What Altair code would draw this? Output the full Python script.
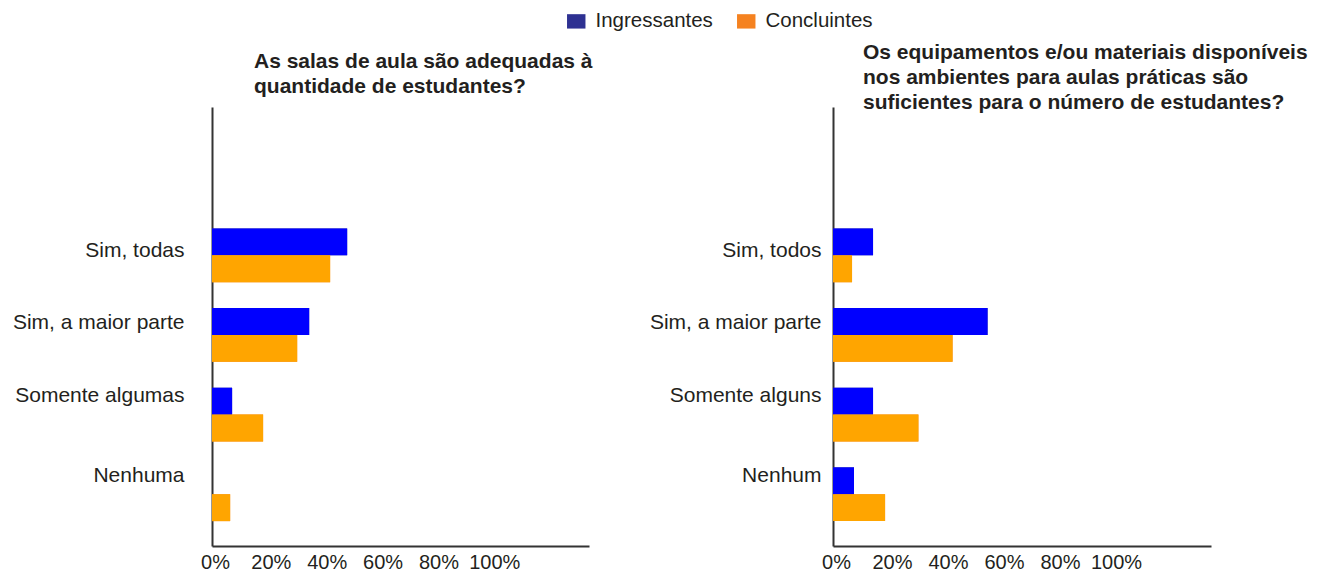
import altair as alt
import pandas as pd

FONT = "Liberation Sans"
TEXT = "#231f20"

series = ["Ingressantes", "Concluintes"]
bar_colors = ["#0000ff", "#ffa500"]
legend_colors = ["#2e3192", "#f58220"]

cats_left = ["Sim, todas", "Sim, a maior parte", "Somente algumas", "Nenhuma"]
ingr_left = [48.4, 34.8, 7.2, 0.0]
concl_left = [42.3, 30.5, 18.3, 6.5]

cats_right = ["Sim, todos", "Sim, a maior parte", "Somente alguns", "Nenhum"]
ingr_right = [14.3, 55.2, 14.3, 7.5]
concl_right = [6.8, 42.7, 30.5, 18.6]

title_left = ["As salas de aula são adequadas à", "quantidade de estudantes?"]
title_right = ["Os equipamentos e/ou materiais disponíveis",
               "nos ambientes para aulas práticas são",
               "suficientes para o número de estudantes?"]

x_ticks = [0, 20, 40, 60, 80, 100]
x_max = 135


def make_df(cats, ingr, concl):
    rows = []
    for c, a, b in zip(cats, ingr, concl):
        rows.append({"categoria": c, "serie": series[0], "valor": a})
        rows.append({"categoria": c, "serie": series[1], "valor": b})
    return pd.DataFrame(rows)


def label_offsets(cats, offs):
    return {
        "condition": [
            {"test": "datum.value === '%s'" % c, "value": o}
            for c, o in zip(cats[:-1], offs[:-1])
        ],
        "value": offs[-1],
    }


def panel(df, cats, title_lines, dx, dy, lab_pad, width, with_legend):
    enc = dict(
        x=alt.X(
            "valor:Q",
            scale=alt.Scale(domain=[0, x_max], nice=False, zero=True),
            axis=alt.Axis(
                values=x_ticks, labelExpr="datum.value + '%'", title=None,
                ticks=False, grid=False, domainColor="#333333", domainWidth=2,
                labelFontSize=20, labelFont=FONT, labelColor=TEXT,
                labelPadding=6, labelFlush=False, labelOffset=3,
            ),
        ),
        y=alt.Y(
            "categoria:N", sort=cats,
            scale=alt.Scale(domain=cats, paddingInner=0.325, paddingOuter=0.919, align=0.83),
            axis=alt.Axis(
                title=None, ticks=False, grid=False, domainColor="#333333",
                domainWidth=2, labelFontSize=21, labelFont=FONT, labelColor=TEXT,
                labelPadding=lab_pad, labelLimit=400,
                labelOffset=label_offsets(cats, [-4, -12, -19, -18]),
            ),
        ),
        yOffset=alt.YOffset(
            "serie:N", sort=series,
            scale=alt.Scale(domain=series, paddingInner=0, paddingOuter=0),
        ),
    )
    # underlying layer carries the legend colours (hidden beneath the visible bars)
    under = alt.Chart(df).mark_bar().encode(
        color=alt.Color(
            "serie:N", sort=series,
            scale=alt.Scale(domain=series, range=legend_colors),
            legend=alt.Legend(
                title=None, orient="none", legendX=354, legendY=-96,
                direction="horizontal", symbolType="M-1,-0.78H1V0.78H-1Z",
                symbolSize=340, symbolStrokeWidth=0,
                labelFontSize=20.5, labelFont=FONT, labelColor=TEXT,
                labelOffset=9, columnPadding=23,
            ) if with_legend else None,
        ),
        **enc,
    )
    bars = alt.Chart(df).mark_bar().encode(
        fill=alt.Fill("serie:N", scale=alt.Scale(domain=series, range=bar_colors), legend=None),
        **enc,
    )
    return alt.layer(under, bars).properties(
        width=width, height=439,
        title=alt.TitleParams(
            text=title_lines, anchor="start", frame="group", dx=dx, dy=dy,
            offset=10, fontSize=21, fontWeight="bold", font=FONT, color=TEXT,
            lineHeight=25, baseline="bottom",
        ),
    )


left = panel(make_df(cats_left, ingr_left, concl_left), cats_left, title_left, 42, 21, 28, 377, True)
right = panel(make_df(cats_right, ingr_right, concl_right), cats_right, title_right, 30, 37, 12, 378, False)

chart = alt.hconcat(left, right, spacing=244, bounds="flush").properties(
    padding={"left": 4, "top": 3, "right": 0, "bottom": 0}
).configure_view(stroke=None)

chart.save("out.html", embed_options={"renderer": "svg", "actions": False})
